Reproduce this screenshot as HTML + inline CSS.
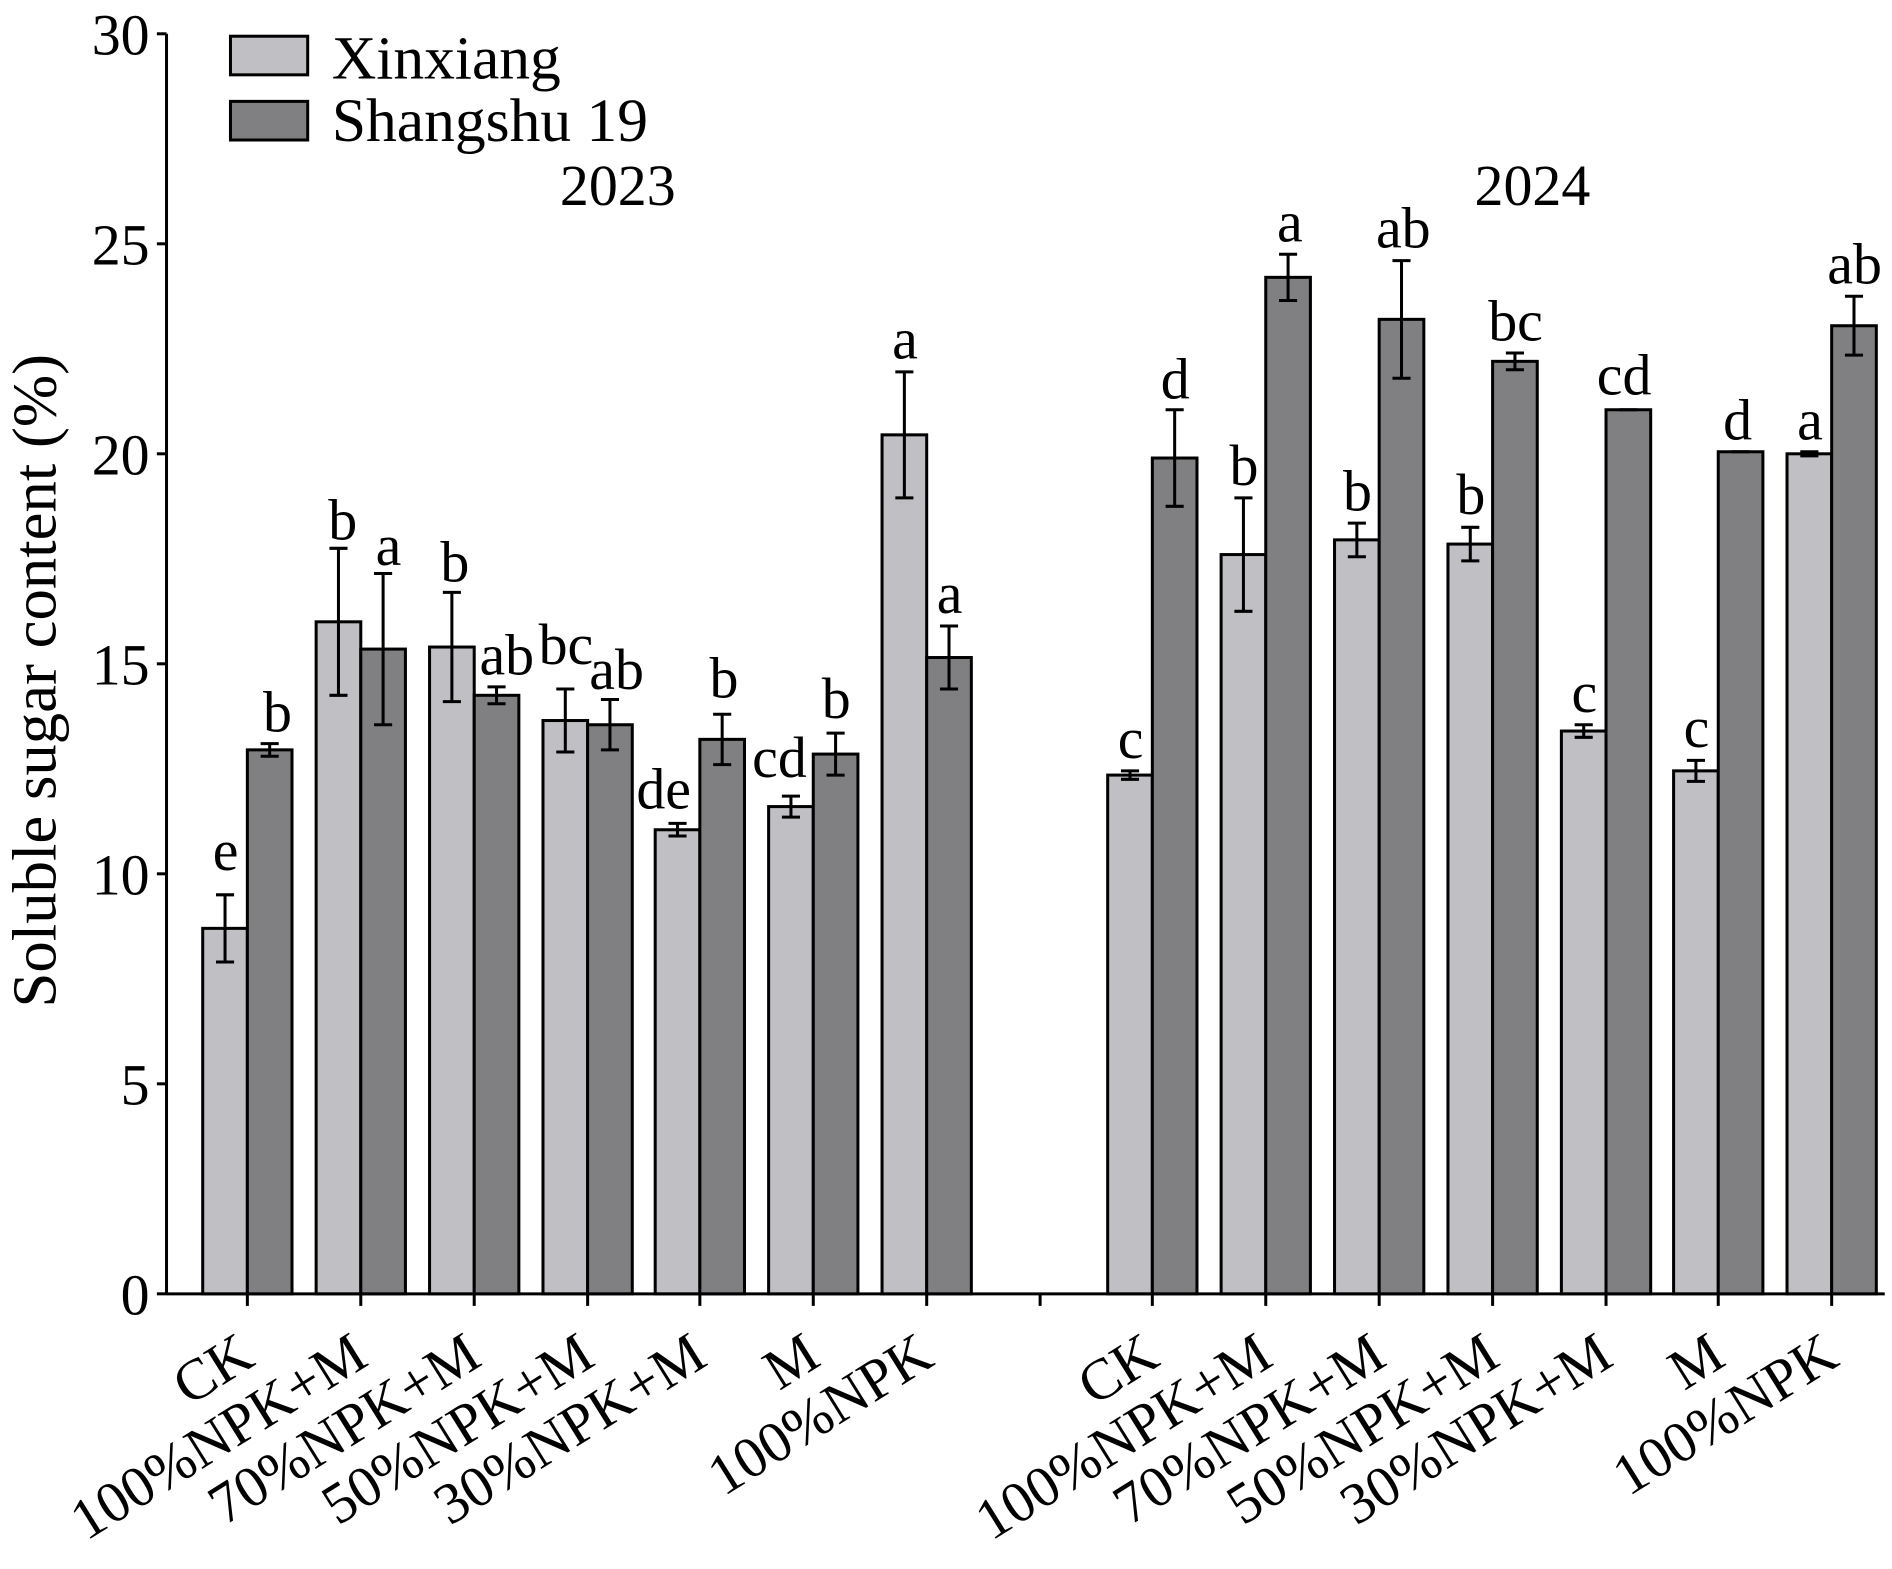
<!DOCTYPE html>
<html><head><meta charset="utf-8"><style>
html,body{margin:0;padding:0;background:#fff}
svg{display:block}
text{font-family:"Liberation Serif",serif;fill:#000}
</style></head><body>
<svg width="1892" height="1569" viewBox="0 0 1568 1300" preserveAspectRatio="none" xmlns="http://www.w3.org/2000/svg">
<g stroke="#000" stroke-width="2.5" fill="none">
<line x1="138" y1="28" x2="138" y2="1072"/>
<line x1="138" y1="1072" x2="1562" y2="1072"/>
<line x1="130" y1="28" x2="138" y2="28"/>
<line x1="130" y1="202" x2="138" y2="202"/>
<line x1="130" y1="376" x2="138" y2="376"/>
<line x1="130" y1="550" x2="138" y2="550"/>
<line x1="130" y1="724" x2="138" y2="724"/>
<line x1="130" y1="898" x2="138" y2="898"/>
<line x1="130" y1="1072" x2="138" y2="1072"/>
<line x1="205" y1="1072" x2="205" y2="1082"/><line x1="299" y1="1072" x2="299" y2="1082"/><line x1="393" y1="1072" x2="393" y2="1082"/><line x1="487" y1="1072" x2="487" y2="1082"/><line x1="580" y1="1072" x2="580" y2="1082"/><line x1="674" y1="1072" x2="674" y2="1082"/><line x1="768" y1="1072" x2="768" y2="1082"/><line x1="862" y1="1072" x2="862" y2="1082"/><line x1="955" y1="1072" x2="955" y2="1082"/><line x1="1049" y1="1072" x2="1049" y2="1082"/><line x1="1143" y1="1072" x2="1143" y2="1082"/><line x1="1237" y1="1072" x2="1237" y2="1082"/><line x1="1331" y1="1072" x2="1331" y2="1082"/><line x1="1424" y1="1072" x2="1424" y2="1082"/><line x1="1518" y1="1072" x2="1518" y2="1082"/>
</g>
<g font-size="48" text-anchor="end">
<text x="124" y="45">30</text><text x="124" y="219">25</text><text x="124" y="393">20</text><text x="124" y="567">15</text><text x="124" y="741">10</text><text x="124" y="915">5</text><text x="124" y="1089">0</text>
</g>
<text font-size="52" text-anchor="middle" transform="translate(46,564) rotate(-90)">Soluble sugar content (%)</text>
<!-- legend -->
<rect x="191" y="30" width="64" height="32" fill="#c0bfc4" stroke="#000" stroke-width="2.5"/>
<rect x="191" y="84" width="64" height="32" fill="#808083" stroke="#000" stroke-width="2.5"/>
<text x="275" y="65" font-size="51">Xinxiang</text>
<text x="275" y="117" font-size="51">Shangshu 19</text>
<text x="512" y="170" font-size="48" text-anchor="middle">2023</text>
<text x="1270" y="170" font-size="48" text-anchor="middle">2024</text>
<!-- bars -->
<g stroke="#000" stroke-width="2.5">
<g fill="#c0bfc4">
<rect x="168" y="769.2" width="37" height="302.8"/>
<rect x="262" y="515.2" width="37" height="556.8"/>
<rect x="356" y="536.1" width="37" height="535.9"/>
<rect x="450" y="597" width="37" height="475"/>
<rect x="543" y="687.5" width="37" height="384.5"/>
<rect x="637" y="668.3" width="37" height="403.7"/>
<rect x="731" y="360.3" width="37" height="711.7"/>
<rect x="918" y="642.2" width="37" height="429.8"/>
<rect x="1012" y="459.5" width="37" height="612.5"/>
<rect x="1106" y="447.3" width="37" height="624.7"/>
<rect x="1200" y="450.8" width="37" height="621.2"/>
<rect x="1294" y="605.7" width="37" height="466.3"/>
<rect x="1387" y="638.7" width="37" height="433.3"/>
<rect x="1481" y="376" width="37" height="696"/>
</g>
<g fill="#808083">
<rect x="205" y="621.3" width="37" height="450.7"/>
<rect x="299" y="537.8" width="37" height="534.2"/>
<rect x="393" y="576.1" width="37" height="495.9"/>
<rect x="487" y="600.5" width="37" height="471.5"/>
<rect x="580" y="612.6" width="37" height="459.4"/>
<rect x="674" y="624.8" width="37" height="447.2"/>
<rect x="768" y="544.8" width="37" height="527.2"/>
<rect x="955" y="379.5" width="37" height="692.5"/>
<rect x="1049" y="229.8" width="37" height="842.2"/>
<rect x="1143" y="264.6" width="37" height="807.4"/>
<rect x="1237" y="299.4" width="37" height="772.6"/>
<rect x="1331" y="339.5" width="37" height="732.5"/>
<rect x="1424" y="374.3" width="37" height="697.7"/>
<rect x="1518" y="269.9" width="37" height="802.1"/>
</g>
</g>
<!-- error bars -->
<g stroke="#000" stroke-width="2.5" fill="none">
<path d="M186.5 741.4V797.1M179 741.4H194M179 797.1H194"/>
<path d="M223.5 616.1V626.6M216 616.1H231M216 626.6H231"/>
<path d="M280.5 454.3V576.1M273 454.3H288M273 576.1H288"/>
<path d="M317.5 475.2V600.5M310 475.2H325M310 600.5H325"/>
<path d="M374.5 490.8V581.3M367 490.8H382M367 581.3H382"/>
<path d="M411.5 569.1V583.1M404 569.1H419M404 583.1H419"/>
<path d="M468.5 570.9V623.1M461 570.9H476M461 623.1H476"/>
<path d="M505.5 579.6V621.3M498 579.6H513M498 621.3H513"/>
<path d="M561.5 682.2V692.7M554 682.2H569M554 692.7H569"/>
<path d="M598.5 591.8V633.5M591 591.8H606M591 633.5H606"/>
<path d="M655.5 659.6V677M648 659.6H663M648 677H663"/>
<path d="M692.5 607.4V642.2M685 607.4H700M685 642.2H700"/>
<path d="M749.5 308.1V412.5M742 308.1H757M742 412.5H757"/>
<path d="M786.5 518.7V570.9M779 518.7H794M779 570.9H794"/>
<path d="M936.5 638.7V645.7M929 638.7H944M929 645.7H944"/>
<path d="M973.5 339.5V419.5M966 339.5H981M966 419.5H981"/>
<path d="M1030.5 412.5V506.5M1023 412.5H1038M1023 506.5H1038"/>
<path d="M1067.5 210.7V249M1060 210.7H1075M1060 249H1075"/>
<path d="M1124.5 433.4V461.3M1117 433.4H1132M1117 461.3H1132"/>
<path d="M1161.5 215.9V313.4M1154 215.9H1169M1154 313.4H1169"/>
<path d="M1218.5 436.9V464.7M1211 436.9H1226M1211 464.7H1226"/>
<path d="M1255.5 292.5V306.4M1248 292.5H1263M1248 306.4H1263"/>
<path d="M1312.5 600.5V610.9M1305 600.5H1320M1305 610.9H1320"/>
<path d="M1342 339.5H1357"/>
<path d="M1405.5 630V647.4M1398 630H1413M1398 647.4H1413"/>
<path d="M1435 374.3H1450"/>
<path d="M1499.5 374.3V377.7M1492 374.3H1507M1492 377.7H1507"/>
<path d="M1536.5 245.5V294.2M1529 245.5H1544M1529 294.2H1544"/>
</g>
<!-- letters -->
<g font-size="48" text-anchor="middle">
<text x="187" y="721">e</text><text x="230" y="606">b</text>
<text x="284" y="447">b</text><text x="322" y="468">a</text>
<text x="377" y="482">b</text><text x="420" y="559">ab</text>
<text x="469" y="550">bc</text><text x="511" y="571">ab</text>
<text x="550" y="670">de</text><text x="600" y="578">b</text>
<text x="646" y="644">cd</text><text x="693" y="595">b</text>
<text x="750" y="297">a</text><text x="787" y="508">a</text>
<text x="937" y="628">c</text><text x="974" y="330">d</text>
<text x="1031" y="402">b</text><text x="1069" y="200">a</text>
<text x="1125" y="423">b</text><text x="1163" y="205">ab</text>
<text x="1219" y="426">b</text><text x="1256" y="282">bc</text>
<text x="1313" y="590">c</text><text x="1346" y="327">cd</text>
<text x="1406" y="619">c</text><text x="1440" y="364">d</text>
<text x="1500" y="364">a</text><text x="1537" y="235">ab</text>
</g>
<!-- x labels -->
<g font-size="48" text-anchor="end">
<text transform="translate(213,1130) rotate(-32)">CK</text>
<text transform="translate(307,1130) rotate(-32)">100%NPK+M</text>
<text transform="translate(401,1130) rotate(-32)">70%NPK+M</text>
<text transform="translate(495,1130) rotate(-32)">50%NPK+M</text>
<text transform="translate(588,1130) rotate(-32)">30%NPK+M</text>
<text transform="translate(682,1130) rotate(-32)">M</text>
<text transform="translate(776,1130) rotate(-32)">100%NPK</text>
<text transform="translate(963,1130) rotate(-32)">CK</text>
<text transform="translate(1057,1130) rotate(-32)">100%NPK+M</text>
<text transform="translate(1151,1130) rotate(-32)">70%NPK+M</text>
<text transform="translate(1245,1130) rotate(-32)">50%NPK+M</text>
<text transform="translate(1339,1130) rotate(-32)">30%NPK+M</text>
<text transform="translate(1432,1130) rotate(-32)">M</text>
<text transform="translate(1526,1130) rotate(-32)">100%NPK</text>
</g>
</svg>
</body></html>
